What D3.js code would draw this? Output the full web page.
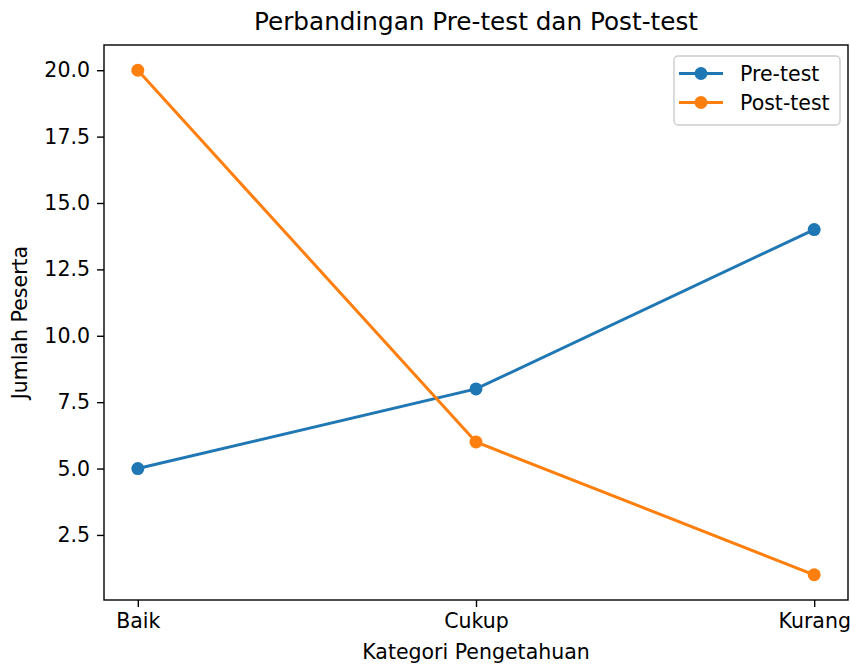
<!DOCTYPE html>
<html>
<head>
<meta charset="utf-8">
<script src="https://cdn.jsdelivr.net/npm/d3@7"></script>
<style>
  body { margin: 0; background: #fff; }
  text { font-family: "DejaVu Sans", sans-serif; fill: #000; }
</style>
</head>
<body>
<div id="chart"></div>
<script>
// data
const categories = ["Baik", "Cukup", "Kurang"];
const preTest = [5, 8, 14];
const postTest = [20, 6, 1];
const seriesNames = ["Pre-test", "Post-test"];
const yTicks = [2.5, 5.0, 7.5, 10.0, 12.5, 15.0, 17.5, 20.0];

const W = 850, H = 664;
const margin = { top: 45, right: 2, bottom: 64, left: 104 };
const width = W - margin.left - margin.right,
  height = H - margin.top - margin.bottom;

const svg = d3.select("#chart").append("svg")
  .attr("width", W).attr("height", H);

const g = svg.append("g")
  .attr("transform", "translate(" + margin.left + "," + margin.top + ")");

// matplotlib-like 5% margins
const x = d3.scaleLinear().domain([-0.1, 2.1]).range([0, width]);
const y = d3.scaleLinear().domain([0.05, 20.95]).range([height, 0]);

const fontSize = 20.5;

// axes
const xAxis = g.append("g")
  .attr("transform", "translate(0," + height + ")")
  .call(d3.axisBottom(x).tickValues(d3.range(categories.length))
    .tickFormat(i => categories[i]).tickSize(7).tickPadding(6).tickSizeOuter(0));
const yAxis = g.append("g")
  .call(d3.axisLeft(y).tickValues(yTicks).tickFormat(d3.format(".1f"))
    .tickSize(7).tickPadding(7).tickSizeOuter(0));
[xAxis, yAxis].forEach(a => {
  a.select(".domain").remove();
  a.selectAll("line").attr("stroke", "#000").attr("stroke-width", 1.4);
  a.selectAll("text").attr("font-size", fontSize).attr("font-family", "DejaVu Sans");
});

// frame
g.append("rect")
  .attr("width", width).attr("height", height)
  .attr("fill", "none").attr("stroke", "#000").attr("stroke-width", 1.4);

const colors = ["#1f77b4", "#ff7f0e"];
const allSeries = [preTest, postTest];

const line = d3.line().x((d, i) => x(i)).y(d => y(d));

allSeries.forEach((vals, s) => {
  g.append("path")
    .datum(vals)
    .attr("d", line)
    .attr("fill", "none")
    .attr("stroke", colors[s])
    .attr("stroke-width", 3);
  g.selectAll(".dot" + s)
    .data(vals)
    .enter()
    .append("circle")
    .attr("cx", (d, i) => x(i))
    .attr("cy", d => y(d))
    .attr("r", 6.5)
    .attr("fill", colors[s]);
});

// title and axis labels
svg.append("text")
  .attr("x", margin.left + width / 2).attr("y", 30)
  .attr("text-anchor", "middle").attr("font-size", 24.7)
  .text("Perbandingan Pre-test dan Post-test");
svg.append("text")
  .attr("x", margin.left + width / 2).attr("y", 659)
  .attr("text-anchor", "middle").attr("font-size", fontSize)
  .text("Kategori Pengetahuan");
svg.append("text")
  .attr("transform", "translate(27," + (margin.top + height / 2) + ") rotate(-90)")
  .attr("text-anchor", "middle").attr("font-size", fontSize)
  .text("Jumlah Peserta");

// legend
const legend = svg.append("g").attr("transform", "translate(674,56)");
legend.append("rect")
  .attr("width", 166).attr("height", 69).attr("rx", 4)
  .attr("fill", "#fff").attr("fill-opacity", 0.8)
  .attr("stroke", "#ccc").attr("stroke-width", 1.4);
seriesNames.forEach((name, i) => {
  const ly = 17.5 + i * 29;
  legend.append("line")
    .attr("x1", 5).attr("x2", 49).attr("y1", ly).attr("y2", ly)
    .attr("stroke", colors[i]).attr("stroke-width", 3);
  legend.append("circle")
    .attr("cx", 27).attr("cy", ly).attr("r", 6.5).attr("fill", colors[i]);
  legend.append("text")
    .attr("x", 66).attr("y", ly + 7)
    .attr("font-size", fontSize)
    .text(name);
});
</script>
</body>
</html>
